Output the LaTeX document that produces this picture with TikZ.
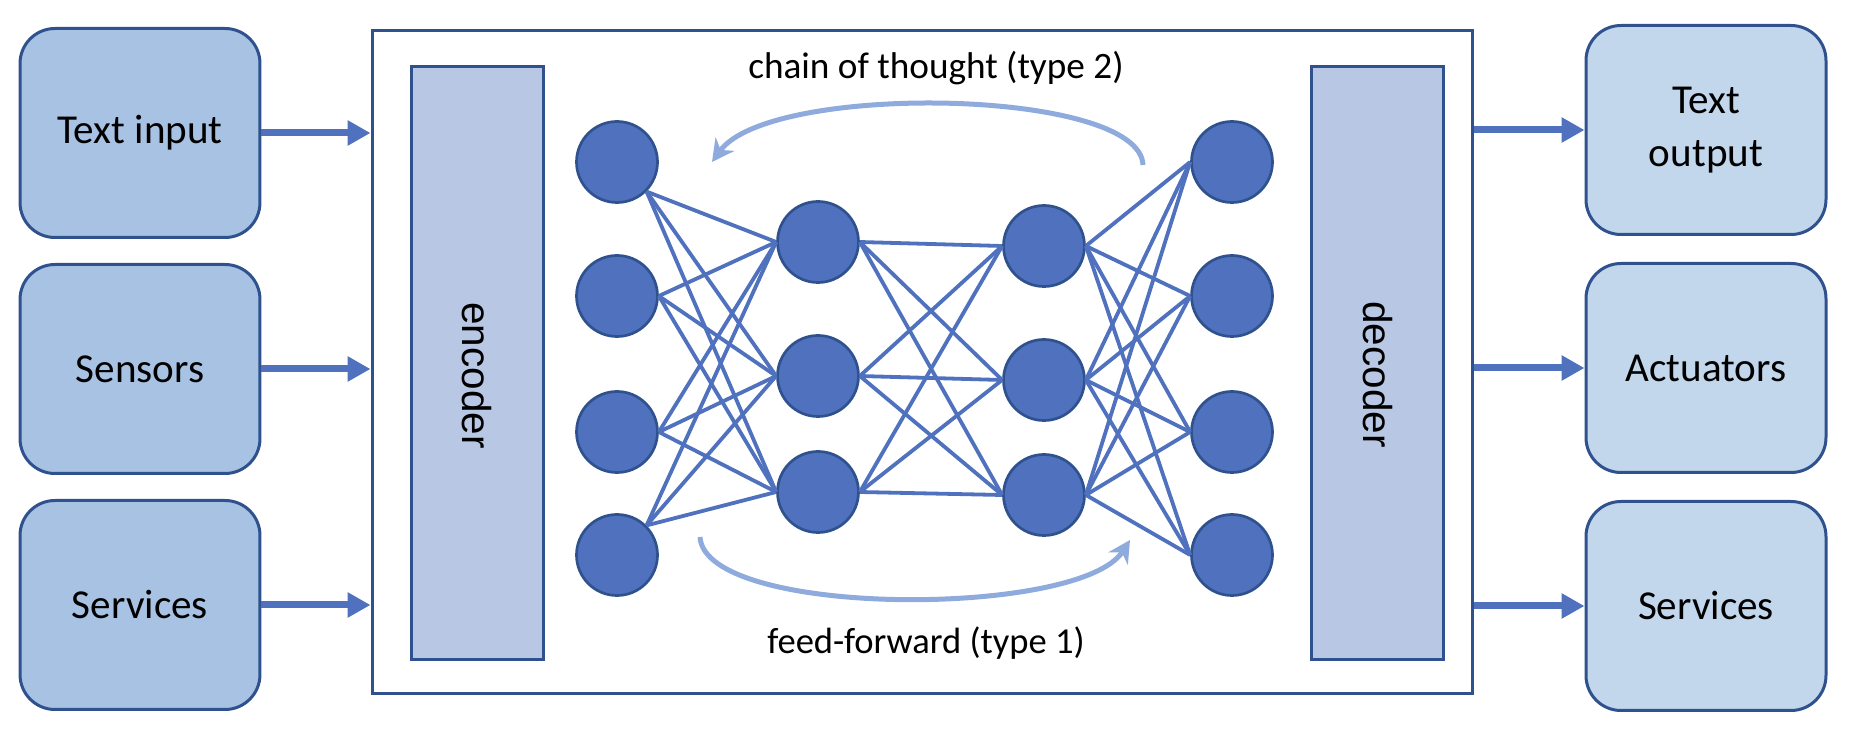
\documentclass[tikz,border=0pt]{standalone}
\usepackage{fontspec}
\setmainfont{Carlito}
\newfontfamily\barfont{Liberation Sans}
\usetikzlibrary{arrows.meta}
\definecolor{edge}{RGB}{47,82,143}
\definecolor{unitblue}{RGB}{79,113,190}
\definecolor{infill}{RGB}{167,194,226}
\definecolor{outfill}{RGB}{194,215,236}
\definecolor{codefill}{RGB}{184,199,228}
\definecolor{arcblue}{RGB}{143,170,220}

\begin{document}
\begin{tikzpicture}[x=0.1mm,y=-0.1mm,
  io/.style={draw=edge,line width=0.3mm,rounded corners=3.5mm,minimum width=24mm,
    minimum height=20.9mm,align=center,font=\fontsize{11.7}{15}\selectfont},
  coderbox/.style={draw=edge,fill=codefill,line width=0.3mm,rotate=-90,
    minimum width=59.3mm,minimum height=13.2mm,font=\barfont\fontsize{11.5}{14}\selectfont},
  neuron/.style={circle,draw=edge,fill=unitblue,line width=0.27mm,minimum size=8.1mm,inner sep=0},
  wire/.style={unitblue,line width=0.38mm},
  feed/.style={-{Triangle[length=2.3mm,width=2.4mm]},unitblue,line width=0.7mm},
  flowarc/.style={-{Stealth[length=2.2mm,width=2.3mm]},arcblue,line width=0.5mm}]
 \useasboundingbox (0,0) rectangle (1850,730);
 % inputs and outputs
 \node[io,fill=infill] (textin) at (140,133) {Text input};
 \node[io,fill=infill] (sensors) at (140,369) {Sensors};
 \node[io,fill=infill] (servin) at (140,605) {Services};
 \node[io,fill=outfill] (textout) at (1706,130) {Text\\output};
 \node[io,fill=outfill] (actuators) at (1706,368) {Actuators};
 \node[io,fill=outfill] (servout) at (1706,606) {Services};
 % model
 \node[draw=edge,line width=0.3mm,minimum width=110.1mm,minimum height=66.4mm,inner sep=0] (core) at (922.5,362) {};
 \node[coderbox] (enc) at (477,363.5) {\hspace*{2.4mm}encoder};
 \node[coderbox] (dec) at (1377.5,363.5) {\hspace*{2.2mm}decoder};
 \foreach \y [count=\i] in {162,296,432,555} \node[neuron] (a\i) at (617,\y) {};
 \foreach \y [count=\i] in {242,376,492} \node[neuron] (b\i) at (818,\y) {};
 \foreach \y [count=\i] in {246,380,495} \node[neuron] (c\i) at (1044,\y) {};
 \foreach \y [count=\i] in {162,296,432,555} \node[neuron] (d\i) at (1232,\y) {};
 \foreach \i/\s in {1/south east,2/east,3/east,4/north east}
   \foreach \j in {1,2,3}
     \draw[wire] (a\i.\s) -- (b\j.west);
 \foreach \i in {1,2,3}
   \foreach \j in {1,2,3}
     \draw[wire] (b\i.east) -- (c\j.west);
 \foreach \i in {1,2,3}
   \foreach \j in {1,...,4}
     \draw[wire] (c\i.east) -- (d\j.west);
 % arrows in and out
 \foreach \n in {textin,sensors,servin}
   \draw[feed] (\n.east) -- (\n.east -| core.west);
 \foreach \n in {textout,actuators,servout}
   \draw[feed] (\n.west -| core.east) -- (\n.west);
 % type 1 and type 2
 \coordinate (cot-a) at (1143,165);
 \coordinate (cot-b) at (712,162);
 \coordinate (ffw-a) at (700,537);
 \coordinate (ffw-b) at (1130,540);
 \draw[flowarc] (cot-a) .. controls (1140,88) and (770,82) .. (cot-b);
 \draw[flowarc] (ffw-a) .. controls (705,618) and (1080,618) .. (ffw-b);
 \node[font=\fontsize{10.6}{12}\selectfont] (cot) at (936,68) {chain of thought (type 2)};
 \node[font=\fontsize{10.4}{12}\selectfont] (ffw) at (926,643) {feed-forward (type 1)};
\end{tikzpicture}
\end{document}
